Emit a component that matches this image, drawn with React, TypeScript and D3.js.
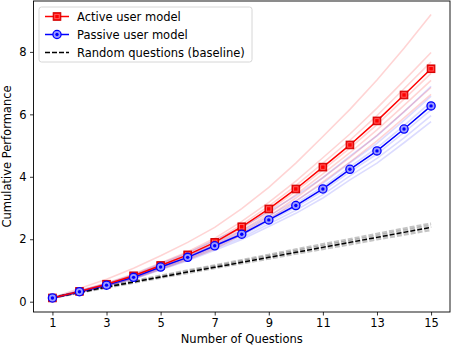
import React, { useEffect, useRef } from "react";
import * as d3 from "d3";

// number of questions asked
const questions = [1, 2, 3, 4, 5, 6, 7, 8, 9, 10, 11, 12, 13, 14, 15];

// mean cumulative performance
const activeMean = [0.12, 0.33, 0.56, 0.83, 1.16, 1.5, 1.9, 2.4, 2.97, 3.61, 4.31, 5.02, 5.79, 6.62, 7.46];
const passiveMean = [0.12, 0.32, 0.53, 0.78, 1.11, 1.42, 1.79, 2.16, 2.62, 3.08, 3.61, 4.24, 4.83, 5.53, 6.27];
const randomMean = [0.13, 0.3, 0.47, 0.63, 0.79, 0.95, 1.1, 1.26, 1.42, 1.58, 1.74, 1.9, 2.06, 2.22, 2.38];

// individual runs (faint lines)
const activeRuns = [
  [0.13, 0.42, 0.72, 1.07, 1.47, 1.9, 2.38, 2.98, 3.66, 4.44, 5.29, 6.16, 7.1, 8.12, 9.2],
  [0.12, 0.36, 0.6, 0.89, 1.24, 1.6, 2.03, 2.57, 3.18, 3.86, 4.61, 5.37, 6.2, 7.08, 7.98],
  [0.12, 0.34, 0.58, 0.85, 1.19, 1.55, 1.96, 2.47, 3.06, 3.72, 4.44, 5.17, 5.96, 6.82, 7.68],
  [0.12, 0.32, 0.55, 0.81, 1.14, 1.47, 1.86, 2.35, 2.91, 3.54, 4.22, 4.92, 5.67, 6.49, 7.31],
  [0.11, 0.31, 0.53, 0.79, 1.1, 1.43, 1.8, 2.28, 2.82, 3.43, 4.09, 4.77, 5.5, 6.29, 7.09],
  [0.11, 0.3, 0.52, 0.76, 1.07, 1.38, 1.75, 2.21, 2.73, 3.32, 3.97, 4.62, 5.33, 6.09, 6.86],
  [0.11, 0.29, 0.5, 0.74, 1.03, 1.34, 1.69, 2.14, 2.64, 3.21, 3.84, 4.47, 5.15, 5.89, 6.64],
];
const passiveRuns = [
  [0.13, 0.35, 0.58, 0.86, 1.22, 1.56, 1.97, 2.38, 2.88, 3.39, 3.97, 4.66, 5.31, 6.08, 6.9],
  [0.13, 0.34, 0.56, 0.82, 1.17, 1.49, 1.88, 2.27, 2.75, 3.23, 3.79, 4.45, 5.07, 5.81, 6.58],
  [0.12, 0.33, 0.54, 0.8, 1.13, 1.45, 1.83, 2.2, 2.67, 3.14, 3.68, 4.32, 4.93, 5.64, 6.4],
  [0.12, 0.31, 0.52, 0.76, 1.09, 1.39, 1.75, 2.12, 2.57, 3.02, 3.54, 4.16, 4.73, 5.42, 6.14],
  [0.11, 0.3, 0.5, 0.74, 1.05, 1.35, 1.7, 2.05, 2.49, 2.93, 3.43, 4.03, 4.59, 5.25, 5.96],
  [0.11, 0.29, 0.49, 0.72, 1.02, 1.31, 1.65, 1.99, 2.41, 2.83, 3.32, 3.9, 4.44, 5.09, 5.77],
];
const randomRuns = [
  [0.13, 0.31, 0.49, 0.66, 0.83, 1.0, 1.16, 1.33, 1.5, 1.67, 1.84, 2.0, 2.17, 2.34, 2.5],
  [0.13, 0.3, 0.47, 0.64, 0.8, 0.97, 1.13, 1.29, 1.46, 1.62, 1.78, 1.94, 2.1, 2.27, 2.43],
  [0.12, 0.29, 0.45, 0.61, 0.77, 0.92, 1.08, 1.23, 1.38, 1.54, 1.69, 1.84, 2.0, 2.15, 2.3],
];

const xTicks = [1, 3, 5, 7, 9, 11, 13, 15];
const yTicks = [0, 2, 4, 6, 8];
const legendLabels = ["Active user model", "Passive user model", "Random questions (baseline)"];

const FONT = "DejaVu Sans, sans-serif";

export default function App() {
  const ref = useRef<SVGSVGElement>(null);

  useEffect(() => {
    const width = 452;
    const height = 348;
    const margin = { top: 1, right: 2, bottom: 36, left: 33.5 };

    const svg = d3.select(ref.current!);
    svg.selectAll("*").remove();

    const x = d3.scaleLinear().domain([0.3, 15.7]).range([margin.left, width - margin.right]);
    const y = d3.scaleLinear().domain([-0.33, 9.63]).range([height - margin.bottom, margin.top]);

    const line = d3
      .line<number>()
      .x((_, i) => x(questions[i]))
      .y((d) => y(d));

    const plot = svg.append("g");

    // faint individual runs
    plot
      .selectAll("path.ra")
      .data(activeRuns)
      .join("path")
      .attr("d", line)
      .attr("fill", "none")
      .attr("stroke", "red")
      .attr("stroke-opacity", 0.17)
      .attr("stroke-width", 1.6);

    plot
      .selectAll("path.rp")
      .data(passiveRuns)
      .join("path")
      .attr("d", line)
      .attr("fill", "none")
      .attr("stroke", "blue")
      .attr("stroke-opacity", 0.14)
      .attr("stroke-width", 1.6);

    plot
      .selectAll("path.rr")
      .data(randomRuns)
      .join("path")
      .attr("d", line)
      .attr("fill", "none")
      .attr("stroke", "#555")
      .attr("stroke-opacity", 0.35)
      .attr("stroke-width", 2.5)
      .attr("stroke-dasharray", "5,2");

    // random baseline mean
    plot
      .append("path")
      .attr("d", line(randomMean))
      .attr("fill", "none")
      .attr("stroke", "black")
      .attr("stroke-width", 1.5)
      .attr("stroke-dasharray", "5,2");

    // passive mean
    plot
      .append("path")
      .attr("d", line(passiveMean))
      .attr("fill", "none")
      .attr("stroke", "blue")
      .attr("stroke-width", 1.5);

    const drawCircle = (g: d3.Selection<SVGGElement, unknown, null, undefined>, cx: number, cy: number) => {
      g.append("circle").attr("cx", cx).attr("cy", cy).attr("r", 4.1)
        .attr("fill", "#9a9aff").attr("stroke", "blue").attr("stroke-width", 1.3);
      g.append("circle").attr("cx", cx).attr("cy", cy).attr("r", 1.7).attr("fill", "blue");
    };
    const drawSquare = (g: d3.Selection<SVGGElement, unknown, null, undefined>, cx: number, cy: number) => {
      g.append("rect").attr("x", cx - 3.8).attr("y", cy - 3.8).attr("width", 7.6).attr("height", 7.6)
        .attr("fill", "red").attr("stroke", "#d00000").attr("stroke-width", 1);
      g.append("rect").attr("x", cx - 2.2).attr("y", cy - 2.2).attr("width", 4.4).attr("height", 4.4)
        .attr("fill", "none").attr("stroke", "#ff7070").attr("stroke-width", 0.8);
    };

    // active mean
    plot
      .append("path")
      .attr("d", line(activeMean))
      .attr("fill", "none")
      .attr("stroke", "red")
      .attr("stroke-width", 1.5);

    activeMean.forEach((v, i) => drawSquare(plot, x(questions[i]), y(v)));
    passiveMean.forEach((v, i) => drawCircle(plot, x(questions[i]), y(v)));

    // axes
    const xAxis = svg
      .append("g")
      .attr("transform", `translate(0,${height - margin.bottom})`)
      .call(d3.axisBottom(x).tickValues(xTicks).tickSize(3.5).tickPadding(3.5).tickFormat(d3.format("d")));
    const yAxis = svg
      .append("g")
      .attr("transform", `translate(${margin.left},0)`)
      .call(d3.axisLeft(y).tickValues(yTicks).tickSize(3.5).tickPadding(3.5).tickFormat(d3.format("d")));
    [xAxis, yAxis].forEach((a) => {
      a.select(".domain").remove();
      a.selectAll("line").attr("stroke", "black").attr("stroke-width", 0.8);
      a.selectAll("text").attr("font-family", FONT).attr("font-size", 11.5).attr("fill", "black");
    });

    // frame
    svg
      .append("rect")
      .attr("x", margin.left)
      .attr("y", margin.top)
      .attr("width", width - margin.left - margin.right)
      .attr("height", height - margin.top - margin.bottom)
      .attr("fill", "none")
      .attr("stroke", "black")
      .attr("stroke-width", 0.9);

    // axis labels
    svg
      .append("text")
      .attr("x", (margin.left + width - margin.right) / 2)
      .attr("y", 343)
      .attr("text-anchor", "middle")
      .attr("font-family", FONT)
      .attr("font-size", 11.5)
      .text("Number of Questions");
    svg
      .append("text")
      .attr("transform", `translate(11,${(margin.top + height - margin.bottom) / 2}) rotate(-90)`)
      .attr("text-anchor", "middle")
      .attr("font-family", FONT)
      .attr("font-size", 11.5)
      .text("Cumulative Performance");

    // legend
    const legend = svg.append("g").attr("transform", "translate(39,7)");
    legend
      .append("rect")
      .attr("width", 213)
      .attr("height", 55)
      .attr("rx", 2.5)
      .attr("fill", "white")
      .attr("fill-opacity", 0.8)
      .attr("stroke", "#cccccc")
      .attr("stroke-width", 0.8);

    legendLabels.forEach((label, i) => {
      const ly = 9.5 + i * 18;
      const g = legend.append("g");
      const ln = g.append("line").attr("x1", 6).attr("x2", 30).attr("y1", ly).attr("y2", ly).attr("stroke-width", 1.5);
      if (i === 0) {
        ln.attr("stroke", "red");
        drawSquare(g, 18, ly);
      } else if (i === 1) {
        ln.attr("stroke", "blue");
        drawCircle(g, 18, ly);
      } else {
        ln.attr("stroke", "black").attr("stroke-dasharray", "5,2");
      }
      g.append("text")
        .attr("x", 38)
        .attr("y", ly + 4.2)
        .attr("font-family", FONT)
        .attr("font-size", 11.5)
        .text(label);
    });
  }, []);

  return (
    <svg
      ref={ref}
      width={452}
      height={348}
      style={{ position: "absolute", left: 0, top: 0, background: "white" }}
    />
  );
}
